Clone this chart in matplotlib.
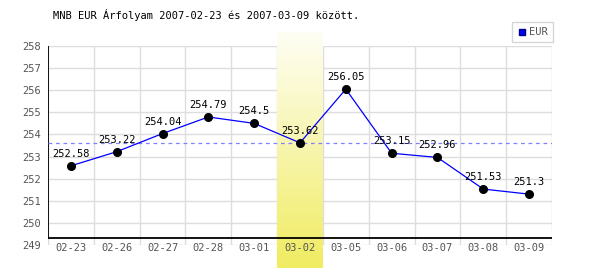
import numpy as np
import matplotlib.pyplot as plt
from matplotlib.colors import LinearSegmentedColormap
from matplotlib.lines import Line2D

dates = ['02-23', '02-26', '02-27', '02-28', '03-01', '03-02',
         '03-05', '03-06', '03-07', '03-08', '03-09']
rates = [252.58, 253.22, 254.04, 254.79, 254.5, 253.62,
         256.05, 253.15, 252.96, 251.53, 251.3]
highlight = 5  # 03-02
yticks = list(range(249, 259))

plt.rcParams['font.family'] = 'DejaVu Sans Mono'
plt.rcParams['font.size'] = 7.5

fig = plt.figure(figsize=(6, 2.7), dpi=100)
ax = fig.add_axes([48/600, 1 - 245/270, 504/600, 199/270])
ax.set_facecolor('none')

x = np.arange(len(dates))

# grid
ax.set_axisbelow(True)
ax.set_xticks(x)
ax.set_xticklabels([])
ax.set_xticks(np.arange(-0.5, len(dates)), minor=True)
ax.set_yticks(yticks)
ax.set_yticklabels([str(t) for t in yticks], color='#555555')
ax.grid(which='minor', axis='x', color='#dddddd', linewidth=1)
ax.grid(which='major', axis='y', color='#dddddd', linewidth=1)
ax.tick_params(which='both', length=0)
ax.tick_params(axis='y', pad=5)
for s in ax.spines.values():
    s.set_visible(False)

# x labels drawn as text so they sit above the band
for xi, d in zip(x, dates):
    ax.annotate(d, (xi, 249), xytext=(0, -2), textcoords='offset points',
                ha='center', va='center', color='#555555', fontsize=7.5,
                annotation_clip=False, zorder=6)

# highlighted day band (gradient)
cmap = LinearSegmentedColormap.from_list('band', ['#fefef4', '#f0ec62'])
grad = np.linspace(0, 1, 100).reshape(-1, 1)
ax.imshow(grad, cmap=cmap, aspect='auto', origin='upper',
          extent=[highlight - 0.5, highlight + 0.5, 247.96, 258.59],
          clip_on=False, zorder=1)

# black axis lines
ax.axhline(249.32, xmin=0, xmax=1, color='black', linewidth=1.3, zorder=2)
ax.axvline(-0.5, ymin=0.035, ymax=1, color='black', linewidth=1.3, zorder=2)

# reference line at highlighted value
ax.axhline(rates[highlight], color='#8080ff', linewidth=0.9,
           linestyle=(0, (3, 3)), zorder=2)

ax.plot(x, rates, color='#0000ff', linewidth=0.9, zorder=3)
ax.plot(x, rates, 'o', color='black', markersize=5.5, zorder=4)
for xi, v in zip(x, rates):
    ax.annotate(f'{v:g}', (xi, v), xytext=(0, 5), textcoords='offset points',
                ha='center', va='bottom', color='black', fontsize=7.5, zorder=5)

ax.set_xlim(-0.5, len(dates) - 0.5)
ax.set_ylim(249, 258)

fig.text(53/600, 1 - 15/270, 'MNB EUR Árfolyam 2007-02-23 és 2007-03-09 között.',
         ha='left', va='center', color='black', fontsize=7.5)

handle = Line2D([], [], marker='s', color='#0000ff', linestyle='none',
                markersize=5, markeredgecolor='#000080')
leg = fig.legend([handle], ['EUR'], loc='upper right',
                 bbox_to_anchor=(553/600, 1 - 22/270), fancybox=False,
                 edgecolor='#cccccc', handlelength=0.8, handletextpad=0.3,
                 borderpad=0.5, fontsize=7.5, borderaxespad=0)
for t in leg.get_texts():
    t.set_color('#555555')

fig.savefig('out.png', dpi=100, facecolor='white')
